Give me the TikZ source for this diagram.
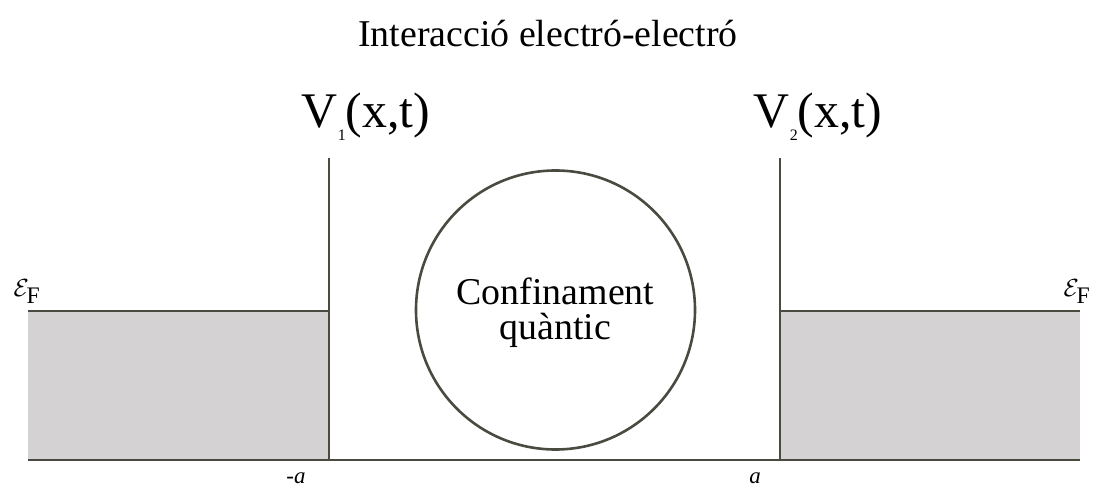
\documentclass[tikz,border=0pt]{standalone}
\usepackage{fontspec}
\setmainfont{Liberation Serif}
\begin{document}
\begin{tikzpicture}[x=1bp,y=-1bp,
  ln/.style={draw=lineclr,line width=2.6bp},
  lbl/.style={inner sep=0pt,text=black}]
\definecolor{lineclr}{HTML}{4A4A40}
\definecolor{fillclr}{HTML}{D4D2D3}
\useasboundingbox (0,0) rectangle (1097,489);
% gray regions
\fill[fillclr] (28,311) rectangle (329,460);
\fill[fillclr] (780,311) rectangle (1080,460);
% lines
\coordinate (bl) at (28,460);
\coordinate (br) at (1080,460);
\coordinate (l1t) at (329,158);
\coordinate (l1b) at (329,460);
\coordinate (l2t) at (780,158);
\coordinate (l2b) at (780,460);
\coordinate (fl1) at (28,311);
\coordinate (fl2) at (329,311);
\coordinate (fr1) at (780,311);
\coordinate (fr2) at (1080,311);
\draw[ln] (bl) -- (br);
\draw[ln] (l1t) -- (l1b);
\draw[ln] (l2t) -- (l2b);
\draw[ln] (fl1) -- (fl2);
\draw[ln] (fr1) -- (fr2);
% circle
\node[circle,ln,minimum size=279bp,inner sep=0pt] (conf) at (555.5,310) {};
\node[lbl,align=center,font=\fontsize{38}{36}\selectfont] (conftxt) at (555.5,313) {Confinament\\[-1pt]quàntic};
% title
\node[lbl,font=\fontsize{38}{40}\selectfont] (title) at (548,34) {Interacció electró-electró};
% potentials
\node[lbl,font=\fontsize{50}{50}\selectfont] (v1) at (366,117) {V\raisebox{-0.55ex}{\fontsize{16}{16}\selectfont 1}(x,t)};
\node[lbl,font=\fontsize{50}{50}\selectfont] (v2) at (818,117) {V\raisebox{-0.55ex}{\fontsize{16}{16}\selectfont 2}(x,t)};
% Fermi
\node[lbl,font=\fontsize{34}{34}\selectfont] (efl) at (27,292) {$\mathcal{E}_{\mathrm{\fontsize{20}{20}\selectfont F}}$};
\node[lbl,font=\fontsize{34}{34}\selectfont] (efr) at (1077,292) {$\mathcal{E}_{\mathrm{\fontsize{20}{20}\selectfont F}}$};
% a labels
\node[lbl,font=\fontsize{23}{23}\selectfont\itshape] (ma) at (296,478) {-a};
\node[lbl,font=\fontsize{23}{23}\selectfont\itshape] (pa) at (755,478) {a};
\end{tikzpicture}
\end{document}
